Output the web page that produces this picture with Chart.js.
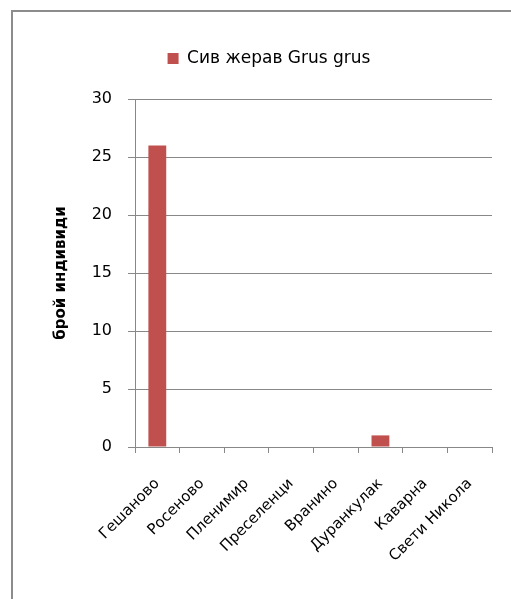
<!DOCTYPE html>
<html lang="bg">
<head>
<meta charset="UTF-8">
<title>Сив жерав Grus grus</title>
<script src="https://cdn.jsdelivr.net/npm/chart.js@4.4.0/dist/chart.umd.min.js"></script>
<style>
  body { margin: 0; background: #fff; }
  #wrap { position: relative; width: 511px; height: 599px; overflow: hidden; }
  #frame { position: absolute; left: 11px; top: 10px; width: 600px; height: 700px; border: 2px solid #8c8c8c; box-sizing: border-box; }
  canvas { position: absolute; left: 0; top: 0; }
</style>
</head>
<body>
<div id="wrap">
  <div id="frame"></div>
  <canvas id="chart" width="511" height="599"></canvas>
</div>
<script>
// данни
var places = ['Гешаново', 'Росеново', 'Пленимир', 'Преселенци', 'Вранино', 'Дуранкулак', 'Каварна', 'Свети Никола'];
var cranes = [26, 0, 0, 0, 0, 1, 0, 0];
var seriesName = 'Сив жерав Grus grus';
var yTitle = 'брой индивиди';

var font = 'DejaVu Sans';

// extra room under the legend, before the plot
var legendGap = {
  id: 'legendGap',
  beforeLayout: function(chart) {
    var lg = chart.legend;
    if (lg && !lg._gapDone) {
      var fit = lg.fit;
      lg.fit = function() { fit.call(this); this.height += 22; };
      lg._gapDone = true;
    }
  }
};

var ctx = document.getElementById('chart').getContext('2d');
var chart = new Chart(ctx, {
  type: 'bar',
  data: {
    labels: places,
    datasets: [{
      label: seriesName,
      data: cranes,
      backgroundColor: '#c0504d',
      borderColor: '#c0504d',
      borderWidth: 0,
      barPercentage: 0.4,
      categoryPercentage: 1
    }]
  },
  options: {
    responsive: false,
    animation: false,
    layout: { padding: { left: 46, right: 19, top: 44, bottom: 0 } },
    plugins: {
      legend: {
        position: 'top',
        labels: {
          boxWidth: 11, boxHeight: 11, padding: 6,
          color: '#000',
          font: { family: font, size: 17 }
        }
      },
      tooltip: { enabled: false }
    },
    scales: {
      x: {
        grid: { drawOnChartArea: false, tickLength: 6, color: '#888' },
        border: { color: '#888' },
        ticks: {
          color: '#000', maxRotation: 45, minRotation: 45, padding: 22,
          font: { family: font, size: 15 }
        },
        afterFit: function(s) { s.height = 152; }
      },
      y: {
        min: 0, max: 30,
        ticks: {
          stepSize: 5, color: '#000', padding: 16,
          font: { family: font, size: 16 }
        },
        grid: { color: '#888', tickLength: 7 },
        border: { color: '#888' },
        title: {
          display: true, text: yTitle, color: '#000',
          font: { family: font, size: 15, weight: 'bold' },
          padding: { top: 6, bottom: 0 }
        },
        afterFit: function(s) { s.width = 89; }
      }
    }
  },
  plugins: [legendGap]
});
</script>
</body>
</html>
